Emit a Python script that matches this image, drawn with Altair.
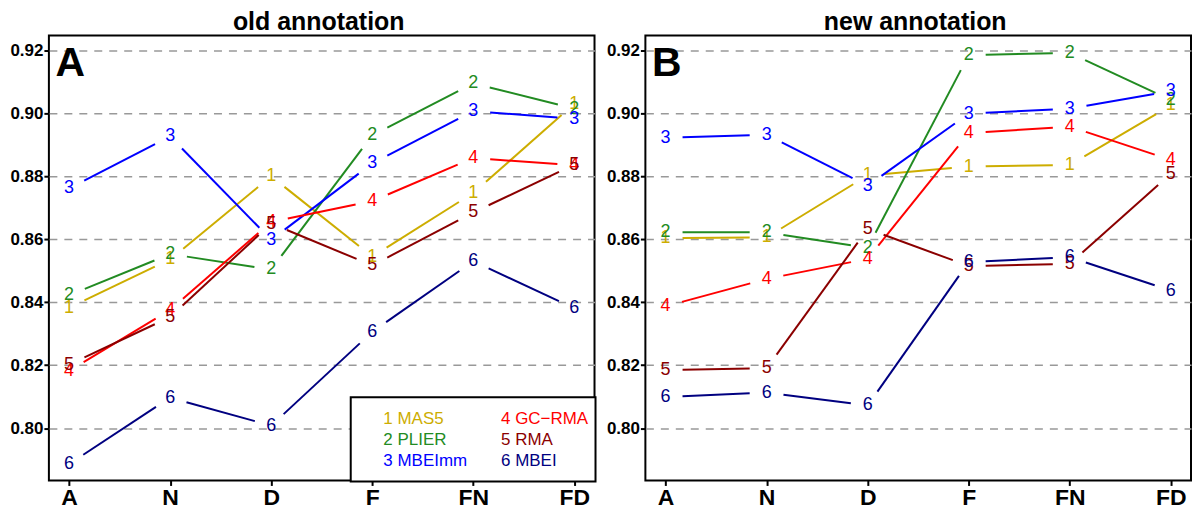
import math
import altair as alt
import pandas as pd

# ---------------- data ----------------
categories = ["A", "N", "D", "F", "FN", "FD"]
methods = ["MAS5", "PLIER", "MBEImm", "GC\u2212RMA", "RMA", "MBEI"]
colors = ["#CDAD00", "#228B22", "#0000FF", "#FF0000", "#8B0000", "#000080"]

old_mas5 = [0.8383, 0.8536, 0.8800, 0.8545, 0.8747, 0.9030]
old_plier = [0.8422, 0.8553, 0.8504, 0.8930, 0.9095, 0.9015]
old_mbeimm = [0.8762, 0.8927, 0.8598, 0.8841, 0.9007, 0.8983]
old_gcrma = [0.8182, 0.8376, 0.8655, 0.8721, 0.8858, 0.8835]
old_rma = [0.8202, 0.8353, 0.8650, 0.8517, 0.8685, 0.8837]
old_mbei = [0.7886, 0.8097, 0.8008, 0.8306, 0.8530, 0.8381]

new_mas5 = [0.8604, 0.8606, 0.8803, 0.8831, 0.8836, 0.9025]
new_plier = [0.8622, 0.8622, 0.8573, 0.9185, 0.9192, 0.9042]
new_mbeimm = [0.8922, 0.8932, 0.8770, 0.8999, 0.9015, 0.9071]
new_gcrma = [0.8387, 0.8474, 0.8538, 0.8937, 0.8958, 0.8852]
new_rma = [0.8185, 0.8190, 0.8633, 0.8515, 0.8522, 0.8808]
new_mbei = [0.8099, 0.8113, 0.8072, 0.8528, 0.8543, 0.8437]

y_ticks = [0.80, 0.82, 0.84, 0.86, 0.88, 0.90, 0.92]

# ---------------- layout / style ----------------
FONT = "Liberation Sans"
W, H = 547, 446
XMIN, XMAX = 0.8, 6.2
YMIN, YMAX = 0.7834, 0.9247
GAP = 17.0  # px gap around the number labels (R type="b")

xscale = alt.Scale(domain=[XMIN, XMAX], nice=False, zero=False)
yscale = alt.Scale(domain=[YMIN, YMAX], nice=False, zero=False)
cscale = alt.Scale(domain=[str(i + 1) for i in range(6)], range=colors)

label_expr = "[" + ",".join("'%s'" % c for c in categories) + "][datum.value - 1]"
xaxis = alt.Axis(values=list(range(1, 7)), labelExpr=label_expr, title=None,
                 grid=False, domain=False, tickColor="black", tickWidth=2, tickSize=5,
                 labelFont=FONT, labelFontSize=23, labelFontWeight="bold",
                 labelColor="black", labelPadding=1)
yaxis = alt.Axis(values=y_ticks, format=".2f", title=None, domain=False,
                 grid=True, gridDash=[8, 7], gridColor="#999999", gridWidth=1.5,
                 tickColor="black", tickWidth=2, tickSize=5,
                 labelFont=FONT, labelFontSize=17, labelFontWeight="bold",
                 labelColor="black", labelPadding=1)


def build_frames(series):
    pts, segs = [], []
    ppx = W / (XMAX - XMIN)
    ppy = H / (YMAX - YMIN)
    for k, vals in enumerate(series):
        sid = str(k + 1)
        for i, v in enumerate(vals):
            pts.append({"x": i + 1, "y": v, "s": sid})
        for i in range(len(vals) - 1):
            x0, y0, x1, y1 = i + 1, vals[i], i + 2, vals[i + 1]
            L = math.hypot((x1 - x0) * ppx, (y1 - y0) * ppy)
            f = GAP / L
            if 2 * f >= 1:
                continue
            segs.append({"x": x0 + (x1 - x0) * f, "y": y0 + (y1 - y0) * f,
                         "x2": x1 - (x1 - x0) * f, "y2": y1 - (y1 - y0) * f, "s": sid})
    return pd.DataFrame(pts), pd.DataFrame(segs)


def panel(series, title, letter, with_legend):
    pts, segs = build_frames(series)
    lines = alt.Chart(segs).mark_rule(strokeWidth=2).encode(
        x=alt.X("x:Q", scale=xscale, axis=xaxis),
        x2="x2:Q",
        y=alt.Y("y:Q", scale=yscale, axis=yaxis),
        y2="y2:Q",
        color=alt.Color("s:N", scale=cscale, legend=None),
    )
    nums = alt.Chart(pts).mark_text(font=FONT, fontSize=18).encode(
        x=alt.X("x:Q", scale=xscale),
        y=alt.Y("y:Q", scale=yscale),
        text="s:N",
        color=alt.Color("s:N", scale=cscale, legend=None),
    )
    big = alt.Chart(pd.DataFrame({"t": [letter]})).mark_text(
        font=FONT, fontSize=41, fontWeight="bold", align="left",
        baseline="alphabetic", color="black"
    ).encode(x=alt.value(6.6), y=alt.value(40.5), text="t:N")
    layers = [lines, nums, big]
    if with_legend:
        box = alt.Chart(pd.DataFrame({"a": [0]})).mark_rect(
            fill="white", stroke="black", strokeWidth=2
        ).encode(x=alt.value(W - 244.4), x2=alt.value(W + 1),
                 y=alt.value(H - 83.4), y2=alt.value(H + 1))
        layers.append(box)
        for i, m in enumerate(methods):
            col, row = i // 3, i % 3
            layers.append(
                alt.Chart(pd.DataFrame({"t": ["%d %s" % (i + 1, m)]})).mark_text(
                    font=FONT, fontSize=17, align="left", baseline="middle",
                    color=colors[i]
                ).encode(x=alt.value(W - 211.7 + col * 118),
                         y=alt.value(H - 61.4 + row * 20.9),
                         text="t:N")
            )
    return alt.layer(*layers).properties(
        width=W, height=H,
        title=alt.TitleParams(title, font=FONT, fontSize=25, fontWeight="bold",
                              color="black", anchor="middle", offset=1, dx=-3),
    )


pA = panel([old_mas5, old_plier, old_mbeimm, old_gcrma, old_rma, old_mbei],
           "old annotation", "A", True)
pB = panel([new_mas5, new_plier, new_mbeimm, new_gcrma, new_rma, new_mbei],
           "new annotation", "B", False)

chart = alt.hconcat(pA, pB, spacing=7).properties(
    padding=0, background="white"
).configure_view(stroke="black", strokeWidth=2)

chart.save("out.html", embed_options={"renderer": "svg", "actions": False})
